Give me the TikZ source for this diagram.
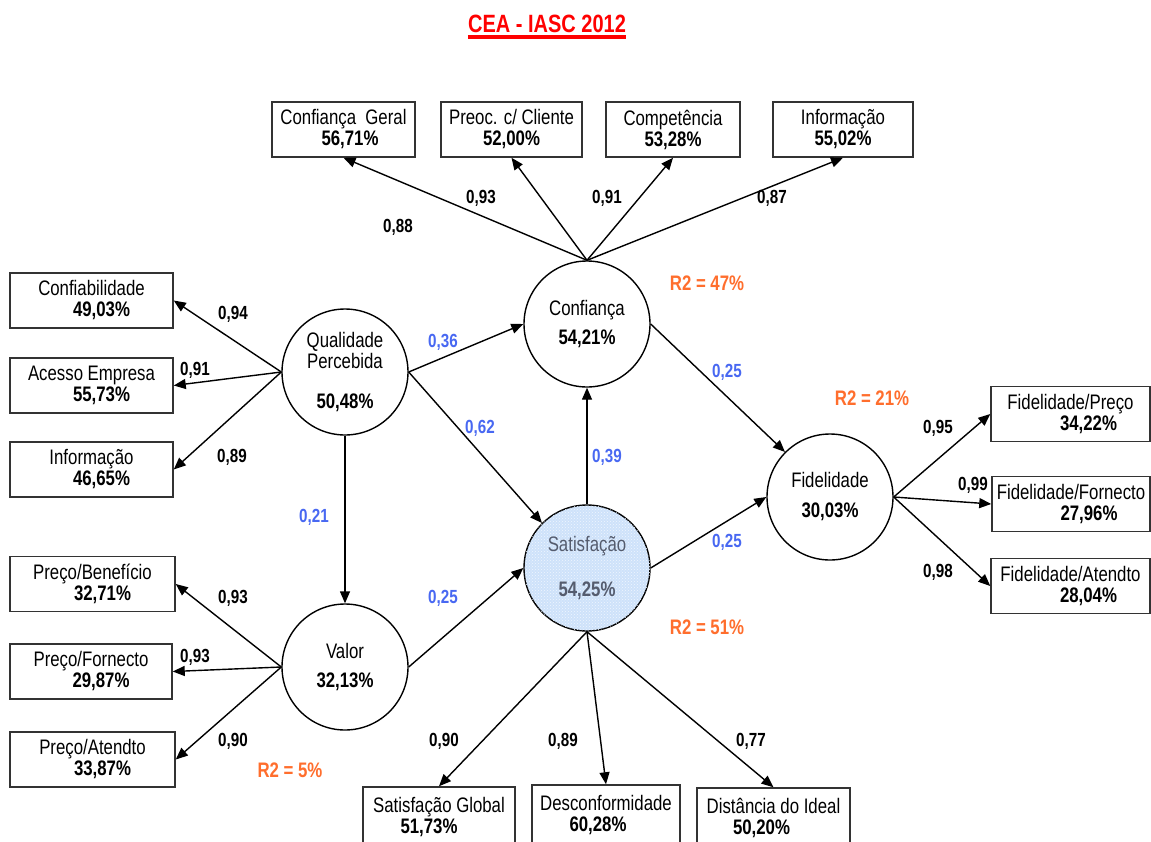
\documentclass[tikz,border=0pt]{standalone}
\usepackage{fontspec}
\setmainfont[FakeStretch=0.8]{Liberation Sans}
\usetikzlibrary{arrows.meta,patterns}

\definecolor{coefblue}{RGB}{72,104,242}
\definecolor{rsqorange}{RGB}{255,110,45}
\definecolor{satfill}{RGB}{206,226,250}
\definecolor{sattext}{RGB}{85,92,110}

\begin{document}
\begin{tikzpicture}[x=1pt,y=-1pt,font=\fontsize{21}{21}\selectfont]

	\tikzstyle indicator=[draw=black!80, line width=1.5pt, rectangle, minimum height=55, inner sep=0pt, align=center];
	\tikzstyle latent=[draw, line width=1.4pt, circle, minimum size=126, inner sep=0pt, align=center];
	\tikzstyle loading=[line width=1.4pt, -{Triangle[length=12pt,width=10pt]}];
	\tikzstyle loading label=[font=\fontsize{19}{19}\selectfont\bfseries, inner sep=0pt];
	\tikzstyle path label=[loading label, text=coefblue];
	\tikzstyle rsq label=[font=\fontsize{21}{21}\selectfont\bfseries, text=rsqorange, inner sep=0pt];

	\fill[white] (0,0) rectangle (1151,841);
	\useasboundingbox (0,0) rectangle (1151,841);

	\node[inner sep=0pt, text=red, font=\fontsize{25}{25}\selectfont\bfseries] (title) at (547,24) {CEA - IASC 2012};
	\draw[red, line width=3.5pt] ([yshift=-4.5pt]title.base west) -- ([yshift=-4.5pt]title.base east);

	% latent variables
	\node[latent] (qual) at (345,372) {Qualidade\\Percebida\\[19pt]\textbf{50,48\%}};
	\node[latent] (conf) at (587,324) {Confiança\\[8pt]\textbf{54,21\%}};
	\node[latent] (val) at (345,667) {Valor\\[8pt]\textbf{32,13\%}};
	\node[latent, fill=satfill, text=sattext, postaction={pattern=crosshatch dots, pattern color=white!70!satfill}] (sat) at (587,568) {Satisfação\\[24pt]\textbf{54,25\%}};
	\node[latent] (fid) at (830,497) {Fidelidade\\[9pt]\textbf{30,03\%}};

	% indicators
	\node[indicator, minimum width=143] (confgeral) at (343.5,129.5) {Confiança\ \ Geral\\\hspace*{13pt}\textbf{56,71\%}};
	\node[indicator, minimum width=141] (preoc) at (511.5,129.5) {Preoc. c/ Cliente\\\textbf{52,00\%}};
	\node[indicator, minimum width=134] (compet) at (673,129.5) {Competência\\\textbf{53,28\%}};
	\node[indicator, minimum width=140] (infoconf) at (843,129.5) {Informação\\\textbf{55,02\%}};

	\node[indicator, minimum width=163] (confiab) at (91.5,300.5) {Confiabilidade\\\hspace*{20pt}\textbf{49,03\%}};
	\node[indicator, minimum width=163] (acesso) at (91.5,385.5) {Acesso Empresa\\\hspace*{20pt}\textbf{55,73\%}};
	\node[indicator, minimum width=163] (infoqual) at (91.5,469.5) {Informação\\\hspace*{20pt}\textbf{46,65\%}};

	\node[indicator, minimum width=165] (precoben) at (92.5,584) {Preço/Benefício\\\hspace*{20pt}\textbf{32,71\%}};
	\node[indicator, minimum width=162] (precoforn) at (91,671.5) {Preço/Fornecto\\\hspace*{20pt}\textbf{29,87\%}};
	\node[indicator, minimum width=165] (precoat) at (92.5,759.5) {Preço/Atendto\\\hspace*{20pt}\textbf{33,87\%}};

	\node[indicator, minimum width=159] (fidpreco) at (1070.5,414) {Fidelidade/Preço\\\hspace*{36pt}\textbf{34,22\%}};
	\node[indicator, minimum width=158] (fidforn) at (1071,504) {Fidelidade/Fornecto\\\hspace*{36pt}\textbf{27,96\%}};
	\node[indicator, minimum width=159] (fidat) at (1070.5,586) {Fidelidade/Atendto\\\hspace*{36pt}\textbf{28,04\%}};

	\node[indicator, minimum width=152, minimum height=60] (satglob) at (439,817) {Satisfação Global\\\textbf{51,73\%}\hspace*{20pt}};
	\node[indicator, minimum width=148, minimum height=60] (descon) at (606,815) {Desconformidade\\\textbf{60,28\%}\hspace*{16pt}};
	\node[indicator, minimum width=153, minimum height=60] (distideal) at (773.5,818) {Distância do Ideal\\\textbf{50,20\%}\hspace*{24pt}};

	% measurement arrows
	\foreach \b in {confgeral,preoc,compet,infoconf}
		\draw[loading] (conf.north) -- (\b.south);
	\foreach \b in {confiab,acesso,infoqual}
		\draw[loading] (qual.west) -- (\b.east);
	\foreach \b in {precoben,precoforn,precoat}
		\draw[loading] (val.west) -- (\b.east);
	\foreach \b in {fidpreco,fidforn,fidat}
		\draw[loading] (fid.east) -- (\b.west);
	\foreach \b in {satglob,descon,distideal}
		\draw[loading] (sat.south) -- (\b.north);

	% structural arrows
	\draw[loading] (qual.east) -- (conf.west);
	\draw[loading] (qual.east) -- (sat.135);
	\draw[loading] (qual.south) -- (val.north);
	\draw[loading] (val.east) -- (sat.west);
	\draw[loading] (sat.north) -- (conf.south);
	\draw[loading] (conf.east) -- (fid.135);
	\draw[loading] (sat.east) -- (fid.west);

	\foreach \x/\y/\v [count=\n] in {481/198/{0,93},607/198/{0,91},772/198/{0,87},398/227/{0,88},
			233/314/{0,94},195/370/{0,91},232/457/{0,89},
			233/598/{0,93},195/657/{0,93},233/741/{0,90},
			938/428/{0,95},973/485/{0,99},938/572/{0,98},
			444/741/{0,90},563/741/{0,89},751/741/{0,77}}
		\node[loading label] (ld\n) at (\x,\y) {\v};

	\foreach \x/\y/\v [count=\n] in {443/342/{0,36},480/428/{0,62},314/517/{0,21},443/598/{0,25},
			607/457/{0,39},727/372/{0,25},727/542/{0,25}}
		\node[path label] (pc\n) at (\x,\y) {\v};

	\foreach \x/\y/\v [count=\n] in {707/283/47,872/398/21,707/627/51,290/770/5}
		\node[rsq label] (rsq\n) at (\x,\y) {R2 = \v\%};

\end{tikzpicture}
\end{document}
